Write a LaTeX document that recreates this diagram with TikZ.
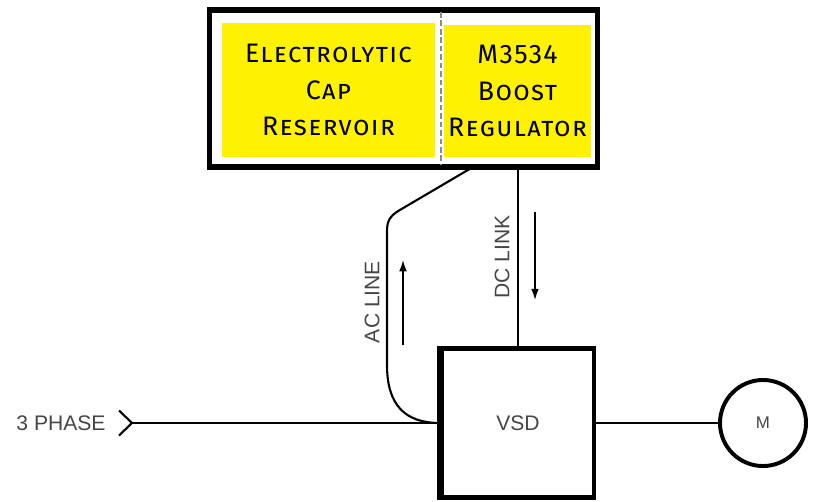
\documentclass[tikz,border=0pt]{standalone}
\usepackage{fontspec}
\setmainfont{Liberation Sans}
\newfontfamily\capfont[LetterSpace=5]{Fira Sans}
\usetikzlibrary{arrows.meta}
\definecolor{capyellow}{RGB}{255,242,0}
\definecolor{labelgray}{RGB}{70,70,70}
\tikzset{
  yellowbox/.style={fill=capyellow, draw=none, align=center, font=\capfont\scshape\fontsize{19}{26}\selectfont},
  wirelabel/.style={text=labelgray, font=\fontsize{15}{18}\selectfont, inner sep=0pt},
  flow/.style={-{Latex[length=8pt, width=5.5pt]}, line width=1.1pt}
}

\begin{document}
\begin{tikzpicture}[x=0.025cm, y=-0.025cm, line width=1.5pt]
  \useasboundingbox (0,0) rectangle (814,501);
  \node[yellowbox, minimum width=5.325cm, minimum height=3.35cm] (cap) at (328.5,90) {Electrolytic\\Cap\\Reservoir};
  \node[yellowbox, minimum width=3.575cm, minimum height=3.3cm] (boost) at (517.5,91) {M3534\\Boost\\Regulator};
  \node[draw, line width=3.6pt, minimum width=9.675cm, minimum height=3.925cm] (frame) at (403.5,88.5) {};
  \draw[black!45, line width=1pt, dash pattern=on 4pt off 2pt] (441,12) -- (441,165);

  \node[draw, line width=3pt, minimum width=3.8cm, minimum height=3.725cm] (vsd) at (518,423) {};
  \draw[line width=4.5pt] (vsd.south west) -- (vsd.north west);
  \node[wirelabel] at (vsd.center) {VSD};
  \node[draw, circle, line width=2.8pt, minimum size=2.15cm, font=\fontsize{12}{14}\selectfont, text=labelgray] (motor) at (763,423) {M};

  \coordinate (acTop) at (473,167);
  \coordinate (chev) at (132,423);
  \node[wirelabel] (phase) at (61,423) {3 PHASE};
  \draw (119,410.5) -- (chev) -- (119,435.5);
  \draw (chev) -- (vsd.west);
  \draw (vsd.east) -- (motor.west);
  \draw (vsd.north) -- (vsd.north |- frame.south);
  \draw (acTop) -- (399,210.5) .. controls (390,216) and (387,221) .. (387,231) -- (387,365)
    .. controls (387,405) and (405,423) .. (vsd.west);

  \node[wirelabel, rotate=90] (acl) at (372,302) {AC LINE};
  \node[wirelabel, rotate=90] (dcl) at (502,257) {DC LINK};
  \draw[flow] (403,345) -- (403,260);
  \draw[flow] (535,212) -- (535,300);
\end{tikzpicture}
\end{document}
